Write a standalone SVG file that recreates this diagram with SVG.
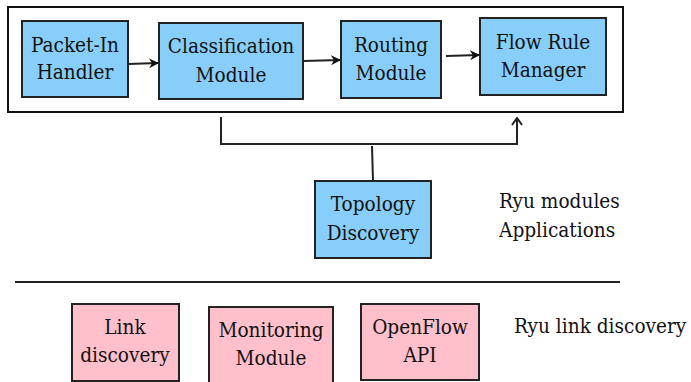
<svg xmlns="http://www.w3.org/2000/svg" width="691" height="382" viewBox="0 0 691 382">
<style>
.b{fill:#87CEFA;stroke:#222;stroke-width:2}
.p{fill:#FFC0CB;stroke:#222;stroke-width:2}
.t{font-family:'DejaVu Serif Condensed','DejaVu Serif',serif;font-size:20.6px;fill:#111;text-anchor:middle}
.l{font-family:'DejaVu Serif Condensed','DejaVu Serif',serif;font-size:20.6px;fill:#111}
.c{fill:none;stroke:#222;stroke-width:2}
</style>
<defs>
<marker id="ah" markerWidth="10" markerHeight="10" refX="9" refY="5" orient="auto" markerUnits="userSpaceOnUse">
<path d="M0,0 L10,5 L0,10 L3,5 Z" fill="#111"/>
</marker>
<marker id="oh" markerWidth="12" markerHeight="12" refX="6" refY="1" orient="0" markerUnits="userSpaceOnUse">
<path d="M1,8 L6,1 L11,8" fill="none" stroke="#222" stroke-width="2"/>
</marker>
</defs>
<rect x="0" y="0" width="691" height="382" fill="#fff"/>
<g id="container"><rect x="8" y="7" width="615" height="105" fill="#fff" stroke="#111" stroke-width="2"/></g>
<g id="connectors">
<line class="c" x1="128" y1="64" x2="158" y2="63" marker-end="url(#ah)"/>
<line class="c" x1="303" y1="61" x2="340" y2="60" marker-end="url(#ah)"/>
<line class="c" x1="446" y1="56" x2="479" y2="55" marker-end="url(#ah)"/>
<polyline class="c" points="221,117 221,144 517,144 517,118" marker-end="url(#oh)"/>
<line class="c" x1="372" y1="146" x2="373" y2="181"/>
<line x1="15" y1="282" x2="620" y2="282" stroke="#222" stroke-width="2"/>
</g>
<g id="packet-in"><rect class="b" x="22" y="21" width="106" height="76"/><text class="t" x="75" y="52">Packet-In</text><text class="t" x="75" y="79">Handler</text></g>
<g id="classification"><rect class="b" x="159" y="23" width="144" height="76"/><text class="t" x="231" y="53">Classification</text><text class="t" x="231" y="82">Module</text></g>
<g id="routing"><rect class="b" x="341" y="21" width="100" height="77"/><text class="t" x="391" y="52">Routing</text><text class="t" x="391" y="80">Module</text></g>
<g id="flowrule"><rect class="b" x="480" y="18" width="126" height="77"/><text class="t" x="543" y="49">Flow Rule</text><text class="t" x="543" y="77">Manager</text></g>
<g id="topology"><rect class="b" x="315" y="181" width="116" height="77"/><text class="t" x="373" y="211">Topology</text><text class="t" x="373" y="240">Discovery</text></g>
<g id="ryu-modules"><text class="l" x="499" y="208">Ryu modules</text><text class="l" x="499" y="237">Applications</text></g>
<g id="link"><rect class="p" x="72" y="304" width="107" height="77"/><text class="t" x="125" y="334">Link</text><text class="t" x="125" y="362">discovery</text></g>
<g id="monitoring"><rect class="p" x="209" y="307" width="124" height="80"/><text class="t" x="271" y="337">Monitoring</text><text class="t" x="271" y="365">Module</text></g>
<g id="openflow"><rect class="p" x="361" y="304" width="118" height="76"/><text class="t" x="420" y="334">OpenFlow</text><text class="t" x="420" y="362">API</text></g>
<g id="ryu-link"><text class="l" x="514" y="333">Ryu link discovery</text></g>
</svg>
